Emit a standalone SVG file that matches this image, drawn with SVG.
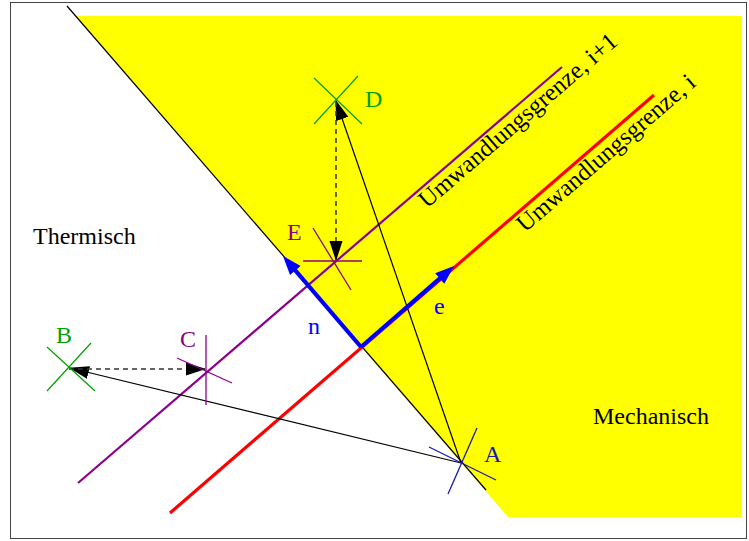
<svg xmlns="http://www.w3.org/2000/svg" width="749" height="541" viewBox="0 0 749 541">
<style>
.lbl{font-family:"Liberation Serif","Times New Roman",serif;font-size:24px}
.rl{font-family:"Liberation Serif","Times New Roman",serif;font-size:24.5px}
.blk{stroke:#000;stroke-width:1.2;fill:none}
.dash{stroke:#333;stroke-width:1.5;stroke-dasharray:5,4;fill:none}
.grn{stroke:#00a000;stroke-width:1.2}
.pur{stroke:#8b008b;stroke-width:1.3}
.dblue{stroke:#1a1aa8;stroke-width:1.3}
</style>
<defs>
<marker id="ah" viewBox="0 -7 20 14" refX="19" refY="0" markerUnits="userSpaceOnUse" markerWidth="20" markerHeight="14" orient="auto">
<path d="M0,-6.5 L20,0 L0,6.5 z" fill="#000"/>
</marker>
<marker id="bh" viewBox="0 -8 20 16" refX="9" refY="0" markerUnits="userSpaceOnUse" markerWidth="20" markerHeight="16" orient="auto">
<path d="M0,-7 L19,0 L0,7 z" fill="#0000ff"/>
</marker>
</defs>
<rect x="0" y="0" width="749" height="541" fill="#fff"/>
<rect x="10.5" y="2.5" width="736" height="536" fill="none" stroke="#444" stroke-width="1"/>
<g id="mech-region">
<polygon points="75.6,16 742,16 742,517 508,517" fill="#ffff00"/>
<line x1="67" y1="6" x2="486" y2="490" class="blk"/>
</g>
<g id="boundaries">
<line x1="170" y1="513" x2="654" y2="95" stroke="#ff0000" stroke-width="3.2"/>
<line x1="78" y1="483" x2="562" y2="67" stroke="#8b008b" stroke-width="2.2"/>
<text class="rl" transform="translate(427,209) rotate(-40.7)">Umwandlungsgrenze, i+1</text>
<text class="rl" transform="translate(525,233) rotate(-40.7)">Umwandlungsgrenze, i</text>
</g>
<g id="connectors">
<line x1="461" y1="463" x2="336" y2="101" class="blk" marker-end="url(#ah)"/>
<line x1="461" y1="463" x2="70" y2="368" class="blk" marker-end="url(#ah)"/>
<line x1="69" y1="369" x2="205" y2="369" class="dash" marker-end="url(#ah)"/>
<line x1="336" y1="102" x2="336" y2="260" class="dash" marker-end="url(#ah)"/>
<line x1="361" y1="347" x2="289.5" y2="263.6" stroke="#0000ff" stroke-width="4.2" marker-end="url(#bh)"/>
<line x1="361" y1="347" x2="446.5" y2="272.6" stroke="#0000ff" stroke-width="4.2" marker-end="url(#bh)"/>
</g>
<g id="labels">
<text class="lbl" x="33" y="244">Thermisch</text>
<text class="lbl" x="593" y="424">Mechanisch</text>
<text class="lbl" x="308" y="334" fill="#0000ff">n</text>
<text class="lbl" x="434" y="314" fill="#0000ff">e</text>
</g>
<g id="node-A">
<line x1="429" y1="447" x2="496" y2="480" class="dblue"/>
<line x1="477" y1="428" x2="448" y2="494" class="dblue"/>
<text class="lbl" x="484" y="462" fill="#1a1aa8">A</text>
</g>
<g id="node-B">
<line x1="47" y1="347" x2="95" y2="391" class="grn"/>
<line x1="91" y1="343" x2="47" y2="391" class="grn"/>
<text class="lbl" x="56" y="343" fill="#00a000">B</text>
</g>
<g id="node-C">
<line x1="206" y1="335" x2="206" y2="405" class="pur"/>
<line x1="177" y1="358" x2="232" y2="383" class="pur"/>
<text class="lbl" x="180" y="347" fill="#8b008b">C</text>
</g>
<g id="node-D">
<line x1="314" y1="78" x2="362" y2="124" class="grn"/>
<line x1="358" y1="76" x2="314" y2="124" class="grn"/>
<text class="lbl" x="365" y="107" fill="#00a000">D</text>
</g>
<g id="node-E">
<line x1="303" y1="261" x2="362" y2="261" class="pur"/>
<line x1="313" y1="228" x2="351" y2="290" class="pur"/>
<text class="lbl" x="287" y="240" fill="#8b008b">E</text>
</g>
</svg>
